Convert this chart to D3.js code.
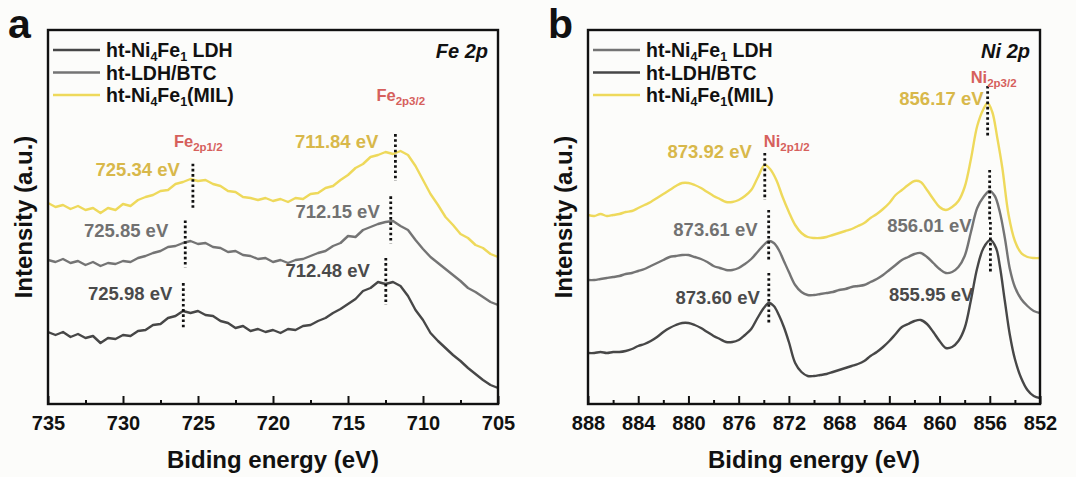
<!DOCTYPE html>
<html>
<head>
<meta charset="utf-8">
<script src="https://cdn.jsdelivr.net/npm/d3@7"></script>
<style>
  body { margin: 0; background: #fcfcfa; }
  text { font-family: "Liberation Sans", Arial, sans-serif; white-space: pre; }
</style>
</head>
<body>
<svg id="fig" width="1076" height="477"></svg>
<script>
// ---------- Fe 2p spectra, sampled every 0.5 eV from 735 to 705 eV ----------
const feEnergy = d3.range(735, 704.75, -0.5);
const feMIL = [
  201,197,199,195,198,194,196,191,196,194,
  200,198,204,207,209,213,214,220,222,225,
  223,224,220,218,213,212,207,206,204,206,
  203,205,202,206,205,210,211,216,218,224,
  229,236,240,247,249,252,250,253,249,238,
  224,210,199,187,179,170,166,159,156,150,
  147
];
const feBTC = [
  144,142,145,141,143,139,142,138,141,140,
  143,142,146,148,151,153,157,158,161,163,
  160,161,157,156,152,153,149,148,145,146,
  142,144,141,144,145,148,151,153,158,161,
  168,167,174,177,180,182,183,178,174,164,
  155,147,141,135,129,123,116,112,107,102,
  99
];
const feLDH = [
  72,69,72,67,70,66,68,61,66,65,
  69,68,73,74,79,80,86,88,93,91,
  93,89,88,83,81,76,78,73,75,72,
  74,71,75,74,78,79,83,86,91,95,
  100,105,113,116,122,120,122,118,108,94,
  84,71,63,56,49,43,36,30,24,19,
  16
];

// ---------- Ni 2p spectra, [binding energy (eV), intensity] ----------
const niMIL = [
  [888,189],[887.5,188],[887,190],[886.5,188],[886,189],[885.5,190],[885,192],[884.5,193],
  [884,196],[883.5,199],[883,202],[882.5,206],[882,210],[881.5,214],[881,218],[880.5,221],
  [880,221],[879.5,219],[879,216],[878.5,212],[878,208],[877.5,205],[877,202],[876.5,202],
  [876,204],[875.5,208],[875,214],[874.5,226],[873.92,239],[873.5,235],[873,224],[872.5,207],
  [872,192],[871.5,179],[871,171],[870.5,167],[870,166],[869.5,166],[869,167],[868.5,169],
  [868,171],[867.5,173],[867,175],[866.5,178],[866,181],[865.5,186],[865,190],[864.5,195],
  [864,201],[863.5,209],[863,214],[862.5,219],[862,223],[861.5,222],[861,214],[860.5,205],
  [860,197],[859.5,194],[859,197],[858.5,203],[858,217],[857.5,245],[857,278],[856.5,295],
  [856.17,301],[855.8,292],[855.4,266],[855,236],[854.5,189],[854,163],[853.5,151],[853,147],
  [852.5,146],[852,146]
];
const niLDH = [
  [888,124],[887.5,124],[887,125],[886.5,126],[886,127],[885.5,128],[885,130],[884.5,131],
  [884,133],[883.5,135],[883,138],[882.5,141],[882,144],[881.5,147],[881,148],[880.5,149],
  [880,149],[879.5,147],[879,145],[878.5,142],[878,138],[877.5,136],[877,134],[876.5,134],
  [876,136],[875.5,140],[875,145],[874.5,152],[874,159],[873.61,163],[873.2,161],[872.8,154],
  [872.4,143],[872,132],[871.5,119],[871,112],[870.5,109],[870,109],[869.5,110],[869,111],
  [868.5,112],[868,114],[867.5,115],[867,117],[866.5,118],[866,119],[865.5,122],[865,125],
  [864.5,129],[864,134],[863.5,139],[863,144],[862.5,147],[862,150],[861.5,151],[861,147],
  [860.5,141],[860,135],[859.5,131],[859,132],[858.5,137],[858,148],[857.5,172],[857,196],
  [856.5,207],[856.01,213],[855.6,208],[855.2,192],[854.8,166],[854.4,135],[854,117],[853.5,105],
  [853,98],[852.5,93],[852,91]
];
const niBTC = [
  [888,51],[887.5,51],[887,52],[886.5,51],[886,52],[885.5,52],[885,53],[884.5,55],
  [884,58],[883.5,60],[883,63],[882.5,67],[882,72],[881.5,76],[881,79],[880.5,81],
  [880,81],[879.5,79],[879,76],[878.5,72],[878,68],[877.5,65],[877,62],[876.5,62],
  [876,64],[875.5,69],[875,75],[874.5,86],[874,96],[873.6,101],[873.2,98],[872.8,89],
  [872.4,77],[872,62],[871.5,41],[871,32],[870.5,28],[870,28],[869.5,29],[869,30],
  [868.5,32],[868,34],[867.5,36],[867,38],[866.5,40],[866,43],[865.5,48],[865,52],
  [864.5,57],[864,63],[863.5,70],[863,77],[862.5,80],[862,83],[861.5,84],[861,80],
  [860.5,72],[860,63],[859.5,56],[859,57],[858.5,63],[858,76],[857.5,104],[857,136],
  [856.5,156],[855.95,164],[855.5,156],[855.2,138],[854.8,103],[854.4,69],[854,45],[853.5,26],
  [853,14],[852.5,8],[852,6]
];

// ---------- axis ticks ----------
const feTicks = [735, 730, 725, 720, 715, 710, 705];
const feMinorTicks = [732.5, 727.5, 722.5, 717.5, 712.5, 707.5];
const niTicks = [888, 884, 880, 876, 872, 868, 864, 860, 856, 852];
const niMinorTicks = [886, 882, 878, 874, 870, 866, 862, 858, 854];

// ---------- peak positions (eV) ----------
const fePeakMIL = [725.34, 711.84];
const fePeakBTC = [725.85, 712.15];
const fePeakLDH = [725.98, 712.48];
const niPeakMIL = [873.92, 856.17];
const niPeakLDH = [873.61, 856.01];
const niPeakBTC = [873.60, 855.95];

// ---------- legend names ----------
const nameLDH = [["ht-Ni"], ["4", 1], ["Fe"], ["1", 1], [" LDH"]];
const nameBTC = [["ht-LDH/BTC"]];
const nameMIL = [["ht-Ni"], ["4", 1], ["Fe"], ["1", 1], ["(MIL)"]];

// ---------- styling ----------
const DARK = "#474747", MID = "#747474", YEL = "#eed95b";
const DARK_T = "#4a4a4a", MID_T = "#717171", YEL_T = "#d8b84a", RED = "#d6605c";
const TOP = 30, BOTTOM = 404;

const svg = d3.select("#fig");
svg.append("rect").attr("width", 1076).attr("height", 477).attr("fill", "#fcfcfa");

const y = d3.scaleLinear().domain([0, 374]).range([BOTTOM, TOP]);

function zip(es, vs) { return es.map((e, i) => [e, vs[i]]); }

function valueAt(pts, e) {
  for (let i = 0; i < pts.length - 1; i++) {
    const a = pts[i], b = pts[i + 1];
    if ((a[0] - e) * (b[0] - e) <= 0) {
      const t = a[0] === b[0] ? 0 : (e - a[0]) / (b[0] - a[0]);
      return a[1] + t * (b[1] - a[1]);
    }
  }
  return pts[pts.length - 1][1];
}

function rich(textSel, parts, subSize, shift) {
  let down = false;
  parts.forEach(p => {
    const t = textSel.append("tspan").text(p[0]);
    if (p[1]) {
      t.attr("font-size", subSize);
      if (!down) { t.attr("dy", shift); down = true; }
    } else if (down) {
      t.attr("dy", -shift); down = false;
    }
  });
}

const panels = [
  {
    letter: "a", x0: 48, x1: 498, domain: [735, 705],
    ticks: feTicks, minor: feMinorTicks, core: "Fe 2p", curve: d3.curveLinear,
    series: [
      { pts: zip(feEnergy, feLDH), color: DARK, text: DARK_T, name: nameLDH, peaks: fePeakLDH },
      { pts: zip(feEnergy, feBTC), color: MID, text: MID_T, name: nameBTC, peaks: fePeakBTC },
      { pts: zip(feEnergy, feMIL), color: YEL, text: YEL_T, name: nameMIL, peaks: fePeakMIL }
    ],
    // per series, per peak: [line above, line below, label gap, label offset]
    marks: [
      [[28, 19, 11, -18], [26, 21, 16, -13]],
      [[22, 25, 17, -12], [25, 22, 11, -10]],
      [[16, 30, 13, -10], [19, 28, 17, -12]]
    ],
    element: "Fe",
    orbitals: [["2p1/2", -19, -17], ["2p3/2", -19, -33]]
  },
  {
    letter: "b", x0: 588, x1: 1040, domain: [888, 852],
    ticks: niTicks, minor: niMinorTicks, core: "Ni 2p", curve: d3.curveCatmullRom.alpha(0.5),
    series: [
      { pts: niLDH, color: MID, text: MID_T, name: nameLDH, peaks: niPeakLDH },
      { pts: niBTC, color: DARK, text: DARK_T, name: nameBTC, peaks: niPeakBTC },
      { pts: niMIL, color: YEL, text: YEL_T, name: nameMIL, peaks: niPeakMIL }
    ],
    marks: [
      [[31, 19, 11, -11], [21, 31, 18, 35]],
      [[30, 20, 9, -5], [18, 32, 17, 55]],
      [[12, 35, 13, -13], [17, 34, 4, -4]]
    ],
    element: "Ni",
    orbitals: [["2p1/2", -1, -6], ["2p3/2", -17, -3]]
  }
];

panels.forEach((P, pi) => {
  const g = svg.append("g");
  const x = d3.scaleLinear().domain(P.domain).range([P.x0, P.x1]);
  const clipId = "clip" + pi;
  svg.append("clipPath").attr("id", clipId).append("rect")
    .attr("x", P.x0).attr("y", TOP).attr("width", P.x1 - P.x0).attr("height", BOTTOM - TOP);

  // spectra
  const line = d3.line().x(d => x(d[0])).y(d => y(d[1])).curve(P.curve);
  g.append("g").attr("clip-path", `url(#${clipId})`)
    .selectAll("path").data(P.series).join("path")
    .attr("d", s => line(s.pts)).attr("fill", "none")
    .attr("stroke", s => s.color).attr("stroke-width", 2.4)
    .attr("stroke-linejoin", "round");

  // peak markers and labels
  P.series.forEach((s, si) => {
    s.peaks.forEach((e, k) => {
      const [up, down, gap, off] = P.marks[si][k];
      const px = x(e), py = y(valueAt(s.pts, e));
      g.append("line").attr("x1", px).attr("x2", px)
        .attr("y1", py - up).attr("y2", py + down)
        .attr("stroke", "#111").attr("stroke-width", 2.8)
        .attr("stroke-dasharray", "2.6 2.6");
      g.append("text").attr("x", px - gap).attr("y", py + off).attr("dy", "0.35em")
        .attr("text-anchor", "end").attr("font-size", 18.5).attr("font-weight", "bold")
        .attr("fill", s.text).text(d3.format(".2f")(e) + " eV");
      if (si === 2) {
        const [orb, dx, dy] = P.orbitals[k];
        const t = g.append("text").attr("x", px + dx).attr("y", py - up + dy)
          .attr("font-size", 16.5).attr("font-weight", "bold").attr("fill", RED);
        rich(t, [[P.element], [orb, 1]], 11.5, 4);
      }
    });
  });

  // axis with inward ticks
  const axis = d3.axisBottom(x).tickValues(P.ticks).tickSizeInner(-8).tickSizeOuter(0)
    .tickPadding(12).tickFormat(d3.format("d"));
  const ag = g.append("g").attr("transform", `translate(0,${BOTTOM})`).call(axis)
    .attr("font-family", null).attr("font-size", null);
  ag.select(".domain").remove();
  ag.selectAll("line").attr("stroke", "#111").attr("stroke-width", 2);
  ag.selectAll("text").attr("font-size", 20).attr("font-weight", "bold").attr("fill", "#111");
  const minorAxis = d3.axisBottom(x).tickValues(P.minor).tickSizeInner(-4).tickSizeOuter(0).tickFormat("");
  const mg = g.append("g").attr("transform", `translate(0,${BOTTOM})`).call(minorAxis);
  mg.select(".domain").remove();
  mg.selectAll("line").attr("stroke", "#111").attr("stroke-width", 2);

  // frame
  g.append("rect").attr("x", P.x0).attr("y", TOP).attr("width", P.x1 - P.x0)
    .attr("height", BOTTOM - TOP).attr("fill", "none").attr("stroke", "#111").attr("stroke-width", 2.4);

  // axis titles
  g.append("text").attr("x", (P.x0 + P.x1) / 2).attr("y", 468)
    .attr("text-anchor", "middle").attr("font-size", 24).attr("font-weight", "bold")
    .attr("fill", "#111").text("Biding energy (eV)");
  g.append("text").attr("transform", `translate(${P.x0 - 24},217) rotate(-90)`)
    .attr("dy", "0.35em").attr("text-anchor", "middle").attr("font-size", 24)
    .attr("font-weight", "bold").attr("fill", "#111").text("Intensity (a.u.)");

  // panel letter
  g.append("text").attr("x", P.x0 - 40).attr("y", 38).attr("font-size", 41)
    .attr("font-weight", "bold").attr("fill", "#111").text(P.letter);

  // core level tag
  g.append("text").attr("x", P.x1 - 10).attr("y", 58).attr("text-anchor", "end")
    .attr("font-size", 20).attr("font-weight", "bold").attr("font-style", "italic")
    .attr("fill", "#111").text(P.core);

  // legend
  P.series.forEach((s, i) => {
    const ly = 50 + i * 22.5;
    g.append("line").attr("x1", P.x0 + 5).attr("x2", P.x0 + 52).attr("y1", ly).attr("y2", ly)
      .attr("stroke", s.color).attr("stroke-width", 2.4);
    const t = g.append("text").attr("x", P.x0 + 58).attr("y", ly + 7)
      .attr("font-size", 19.5).attr("font-weight", "bold").attr("fill", "#111");
    rich(t, s.name, 12.5, 3.5);
  });
});
</script>
</body>
</html>
